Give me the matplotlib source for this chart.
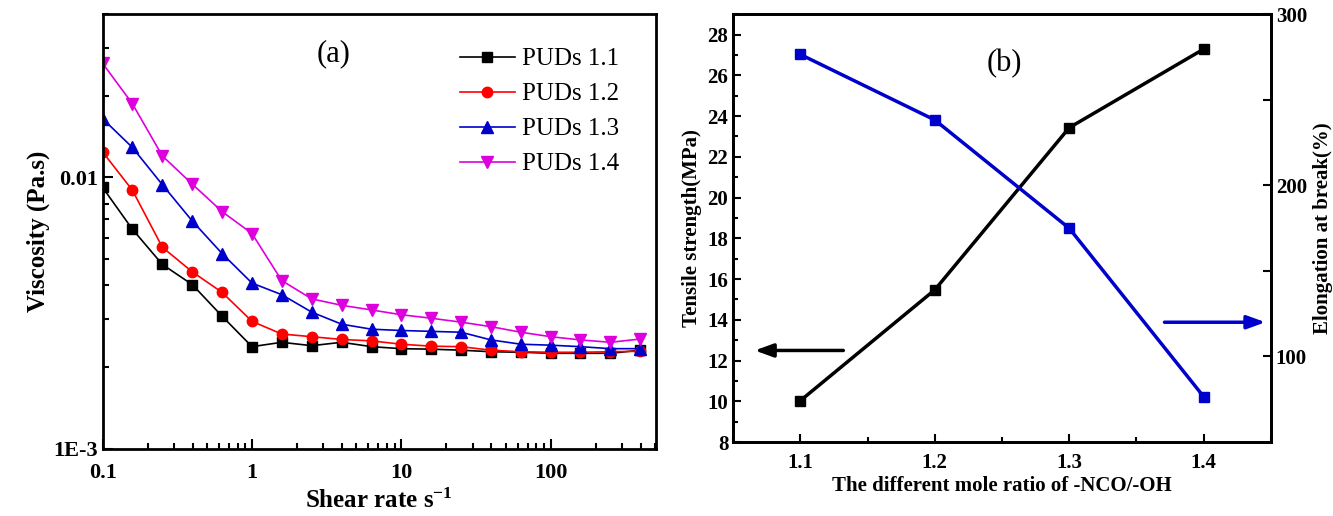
import matplotlib
matplotlib.use("Agg")
import matplotlib.pyplot as plt
from matplotlib.ticker import FixedLocator, NullFormatter, LogLocator, MultipleLocator

plt.rcParams['font.family'] = ['Liberation Serif', 'DejaVu Serif']
plt.rcParams['mathtext.fontset'] = 'custom'
plt.rcParams['mathtext.rm'] = 'Liberation Serif'
plt.rcParams['mathtext.bf'] = 'Liberation Serif:bold'

# ---- Panel (a) data ----
shear_rate = [0.1, 0.158, 0.251, 0.398, 0.631, 1.0, 1.58, 2.51, 3.98, 6.31,
              10.0, 15.8, 25.1, 39.8, 63.1, 100.0, 158.0, 251.0, 398.0]
visc_11 = [0.00918, 0.00645, 0.00478, 0.00403, 0.00308, 0.00238, 0.00247, 0.00240,
           0.00247, 0.00238, 0.00234, 0.00233, 0.00231, 0.00228, 0.00227, 0.00225,
           0.00225, 0.00225, 0.00231]
visc_12 = [0.0124, 0.00898, 0.00553, 0.00449, 0.00377, 0.00295, 0.00265, 0.00259,
           0.00253, 0.00250, 0.00243, 0.00239, 0.00238, 0.00231, 0.00228, 0.00227,
           0.00227, 0.00228, 0.00229]
visc_13 = [0.01645, 0.0129, 0.0094, 0.00691, 0.00524, 0.00408, 0.00370, 0.00319,
           0.00288, 0.00276, 0.00273, 0.00271, 0.00269, 0.00252, 0.00243, 0.00241,
           0.00238, 0.00234, 0.00234]
visc_14 = [0.0263, 0.0187, 0.0120, 0.00945, 0.00748, 0.00621, 0.00417, 0.00357,
           0.00338, 0.00325, 0.00312, 0.00303, 0.00293, 0.00282, 0.00269, 0.00259,
           0.00252, 0.00247, 0.00254]
series_labels = ['PUDs 1.1', 'PUDs 1.2', 'PUDs 1.3', 'PUDs 1.4']

# ---- Panel (b) data ----
mole_ratio = [1.1, 1.2, 1.3, 1.4]
tensile = [10.03, 15.47, 23.43, 27.29]
elongation = [276.5, 238.2, 174.9, 76.5]

fig = plt.figure(figsize=(13.33, 5.16), dpi=100)

# ================= Panel (a) =================
ax1 = fig.add_axes([0.077, 0.130, 0.415, 0.843])
styles = [('#000000', 's', 6.5), ('#ff0000', 'o', 7.5), ('#0000cc', '^', 8), ('#dd00dd', 'v', 8)]
for vals, lab, (c, m, ms) in zip([visc_11, visc_12, visc_13, visc_14], series_labels, styles):
    ax1.plot(shear_rate, vals, color=c, marker=m, markersize=ms, linewidth=1.2, label=lab)
ax1.set_xscale('log')
ax1.set_yscale('log')
ax1.set_xlim(0.1, 505)
ax1.set_ylim(0.001, 0.04)
ax1.yaxis.set_major_locator(FixedLocator([0.001, 0.01]))
ax1.yaxis.set_minor_locator(LogLocator(base=10, subs=range(2, 10)))
ax1.yaxis.set_minor_formatter(NullFormatter())
ax1.set_yticklabels(['1E-3', '0.01'])
ax1.xaxis.set_major_locator(FixedLocator([0.1, 1, 10, 100]))
ax1.xaxis.set_minor_locator(LogLocator(base=10, subs=range(2, 10)))
ax1.xaxis.set_minor_formatter(NullFormatter())
ax1.set_xticklabels(['0.1', '1', '10', '100'])
ax1.tick_params(which='both', direction='in', top=False, right=False, labelsize=16, width=1.5)
ax1.tick_params(which='major', length=7)
ax1.tick_params(which='minor', length=4)
ax1.tick_params(axis='x', pad=10)
for lbl in ax1.get_xticklabels() + ax1.get_yticklabels():
    lbl.set_fontweight('bold')
for s in ax1.spines.values():
    s.set_linewidth(2)
ax1.set_ylabel('Viscosity (Pa.s)', fontsize=18, fontweight='bold', labelpad=2)
ax1.set_xlabel(r'Shear rate $\mathbf{s^{-1}}$', fontsize=18, fontweight='bold', labelpad=4)
ax1.text(0.417, 0.909, '(a)', transform=ax1.transAxes, fontsize=22, ha='center', va='center')
leg = ax1.legend(loc='upper right', bbox_to_anchor=(0.952, 0.945), frameon=False, fontsize=18,
                 handlelength=2.2, handletextpad=0.3, labelspacing=0.5, borderaxespad=0)

# ================= Panel (b) =================
ax2 = fig.add_axes([0.550, 0.1434, 0.4034, 0.829])
ax2.plot(mole_ratio, tensile, color='black', marker='s', markersize=7, linewidth=2.5)
ax2.set_xlim(1.05, 1.45)
ax2.set_ylim(8, 29)
ax2.yaxis.set_major_locator(MultipleLocator(2))
ax2.yaxis.set_minor_locator(MultipleLocator(1))
ax2.xaxis.set_major_locator(FixedLocator(mole_ratio))
ax2.xaxis.set_minor_locator(MultipleLocator(0.05))
ax2.set_xticklabels(['1.1', '1.2', '1.3', '1.4'])
ax2.tick_params(which='both', direction='in', top=False, right=False, labelsize=15, width=1.5)
ax2.tick_params(which='major', length=6)
ax2.tick_params(which='minor', length=3.5)
ax2.tick_params(axis='x', pad=8)
for lbl in ax2.get_xticklabels() + ax2.get_yticklabels():
    lbl.set_fontweight('bold')
ax2.set_xlabel('The different mole ratio of -NCO/-OH', fontsize=15, fontweight='bold', labelpad=2)
ax2.set_ylabel('Tensile strength(MPa)', fontsize=15, fontweight='bold', labelpad=4)
ax2.text(1.252, 26.6, '(b)', fontsize=22, ha='center', va='center')

ax3 = ax2.twinx()
ax3.plot(mole_ratio, elongation, color='#0000cc', marker='s', markersize=7, linewidth=2.5)
ax3.set_ylim(50, 300)
ax3.yaxis.set_major_locator(FixedLocator([100, 200, 300]))
ax3.yaxis.set_minor_locator(FixedLocator([150, 250]))
ax3.tick_params(which='both', direction='in', labelsize=15, width=1.5)
ax3.tick_params(which='major', length=6)
ax3.tick_params(which='minor', length=6)
for lbl in ax3.get_yticklabels():
    lbl.set_fontweight('bold')
ax3.set_ylabel('Elongation at break(%)', fontsize=15, fontweight='bold', labelpad=4)
for s in list(ax2.spines.values()) + list(ax3.spines.values()):
    s.set_linewidth(2)

ax2.annotate('', xy=(0.035, 0.214), xytext=(0.21, 0.214), xycoords='axes fraction',
             arrowprops=dict(arrowstyle='-|>,head_length=1.1,head_width=0.4', color='black', lw=2.5))
ax2.annotate('', xy=(0.995, 0.28), xytext=(0.797, 0.28), xycoords='axes fraction',
             arrowprops=dict(arrowstyle='-|>,head_length=1.1,head_width=0.4', color='#0000cc', lw=2.5))

fig.savefig('out.png', dpi=100)
